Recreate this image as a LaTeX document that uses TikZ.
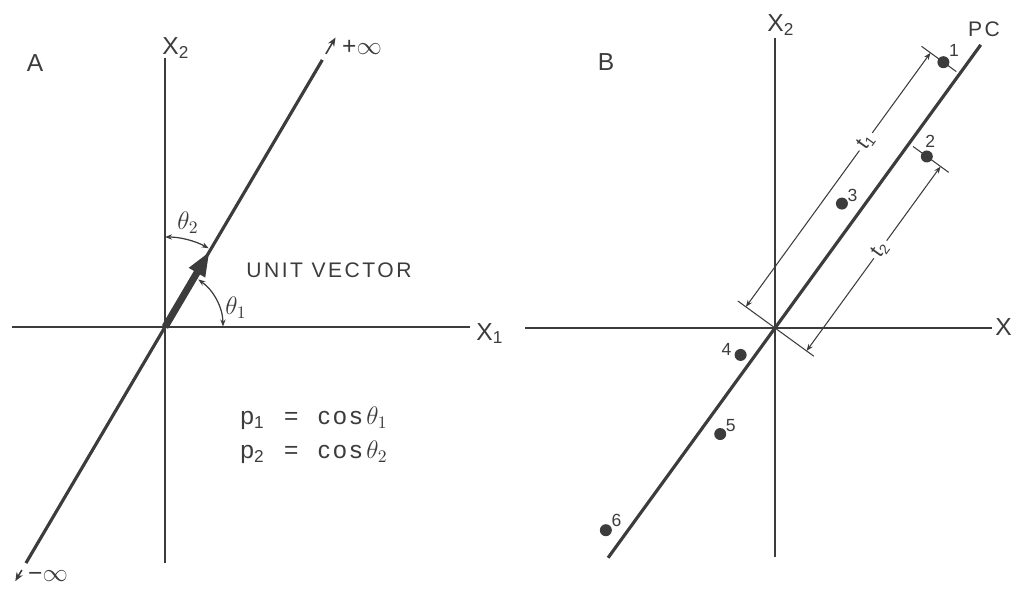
\documentclass[tikz,border=0pt]{standalone}
\usepackage{fontspec}
\setmainfont{Liberation Sans}
\usetikzlibrary{arrows.meta,positioning}
\newfontfamily\draftfont[LetterSpace=12]{Liberation Sans}
\newcommand{\biglbl}{\fontsize{14}{16}\selectfont}
\newcommand{\midlbl}{\fontsize{12}{14}\selectfont}
\newcommand{\smalllbl}{\fontsize{10}{12}\selectfont}
\definecolor{inkgray}{HTML}{3C3C3C}

\begin{document}
\begin{tikzpicture}[x=0.02cm, y=0.02cm, color=inkgray,
  axis/.style={line width=0.9pt},
  pcline/.style={line width=1.8pt},
  tickline/.style={line width=0.6pt},
  dimarr/.style={{Stealth[length=4pt,width=3pt]}-{Stealth[length=4pt,width=3pt]}, line width=0.6pt},
  angarr/.style={{Stealth[length=4pt,width=3pt]}-{Stealth[length=4pt,width=3pt]}, line width=0.7pt},
  infarr/.style={-{Stealth[length=5pt,width=4pt]}, line width=0.9pt},
  unitvec/.style={-{Triangle[length=0.5cm,width=0.34cm]}, line width=4pt},
  obs/.style={circle, fill=inkgray, inner sep=0pt, minimum size=0.24cm},
  biglab/.style={font=\draftfont\biglbl, inner sep=0pt},
  midlab/.style={font=\draftfont\midlbl, inner sep=0pt},
  numlab/.style={font=\draftfont\smalllbl, inner sep=0.5pt}]
  \useasboundingbox (0,0) rectangle (1013,596);

  % panel A
  \coordinate (OA) at (165,269);
  \coordinate (a-top) at (165,538);
  \coordinate (a-bot) at (165,33);
  \coordinate (a-left) at (12,269);
  \coordinate (a-right) at (470,269);
  \draw[axis] (a-top) -- (a-bot);
  \draw[axis] (a-left) -- (a-right);
  \node[biglab] (lblA) at (35,533) {A};
  \node[biglab, anchor=base west] (x2A) at (162,541) {X\textsubscript{2}};
  \node[biglab, anchor=base west] (x1A) at (476,256) {X\textsubscript{1}};

  \path (OA) ++(59.5:310) coordinate (a-pend) ++(59.5:7) coordinate (a-pinfs) ++(59.5:19) coordinate (a-pinf);
  \path (OA) ++(239.5:274) coordinate (a-mend) ++(239.5:8) coordinate (a-minfs) ++(239.5:13) coordinate (a-minf);
  \draw[pcline] (a-mend) -- (a-pend);
  \draw[infarr] (a-pinfs) -- (a-pinf);
  \draw[infarr] (a-minfs) -- (a-minf);
  \node[biglab] (pinf) at (362,549) {+$\infty$};
  \node[biglab] (minf) at (48,20) {−$\infty$};

  \path (OA) ++(59.5:88) coordinate (a-unit);
  \draw[unitvec] (OA) -- (a-unit);
  \path (OA) ++(90:90) coordinate (th2s);
  \draw[angarr] (th2s) arc[start angle=90, end angle=61, radius=90];
  \path (OA) ++(55:58) coordinate (th1s);
  \draw[angarr] (th1s) arc[start angle=55, end angle=0.5, radius=58];
  \node[biglab] (th2) at (188,373) {$\theta_2$};
  \node[biglab] (th1) at (236,288) {$\theta_1$};

  \node[midlab] (uvec) at (329,326) {UNIT VECTOR};
  \node[biglab, anchor=west] (peq1) at (240,178) {p\textsubscript{1} \ = \ cos\,$\theta_1$};
  \node[biglab, anchor=west] (peq2) at (240,144) {p\textsubscript{2} \ = \ cos\,$\theta_2$};

  % panel B
  \coordinate (OB) at (775,268);
  \coordinate (b-top) at (775,558);
  \coordinate (b-bot) at (775,39);
  \coordinate (b-left) at (525,268);
  \coordinate (b-right) at (992,268);
  \draw[axis] (b-top) -- (b-bot);
  \draw[axis] (b-left) -- (b-right);
  \node[biglab] (lblB) at (606,534) {B};
  \node[biglab, anchor=base west] (x2B) at (767,564) {X\textsubscript{2}};
  \node[biglab, anchor=base west] (x1B) at (995,261) {X};

  \begin{scope}[shift={(OB)}, rotate=54]
    \coordinate (pc-top) at (350,0);
    \coordinate (pc-bot) at (-284,0);
    \node[obs] (d1) at (314,20) {};
    \node[obs] (d2) at (228,-22) {};
    \node[obs] (d3) at (140,19) {};
    \node[obs] (d4) at (-42,12) {};
    \node[obs] (d5) at (-118,-18) {};
    \node[obs] (d6) at (-263,18) {};
    \coordinate (k0a) at (0,46);
    \coordinate (k0b) at (0,-48);
    \coordinate (k1a) at (314,47);
    \coordinate (k1b) at (314,4);
    \coordinate (k2a) at (228,-5);
    \coordinate (k2b) at (228,-49);
    \coordinate (t1a) at (0,36);
    \coordinate (t1b) at (314,36);
    \coordinate (t2a) at (0,-39);
    \coordinate (t2b) at (228,-39);
  \end{scope}
  \draw[pcline] (pc-bot) -- (pc-top);
  \node[midlab] (pc) at (984,567) {PC};

  \draw[tickline] (k0a) -- (k0b);
  \draw[tickline] (k1a) -- (k1b);
  \draw[tickline] (k2a) -- (k2b);
  \draw[dimarr] (t1a) -- node[pos=0.65, sloped, fill=white, inner sep=2pt, font=\draftfont\midlbl] (t1) {t\textsubscript{1}} (t1b);
  \draw[dimarr] (t2a) -- node[pos=0.55, sloped, fill=white, inner sep=2pt, font=\draftfont\midlbl] (t2) {t\textsubscript{2}} (t2b);

  \node[numlab, above right=0pt and 0pt of d1] (n1) {1};
  \node[numlab, above=1pt of d2, xshift=2pt] (n2) {2};
  \node[numlab, above right=-2pt and 0pt of d3] (n3) {3};
  \node[numlab, left=1pt of d4, yshift=3pt] (n4) {4};
  \node[numlab, above right=-2pt and 0pt of d5] (n5) {5};
  \node[numlab, above right=-1pt and 0pt of d6] (n6) {6};
\end{tikzpicture}
\end{document}
